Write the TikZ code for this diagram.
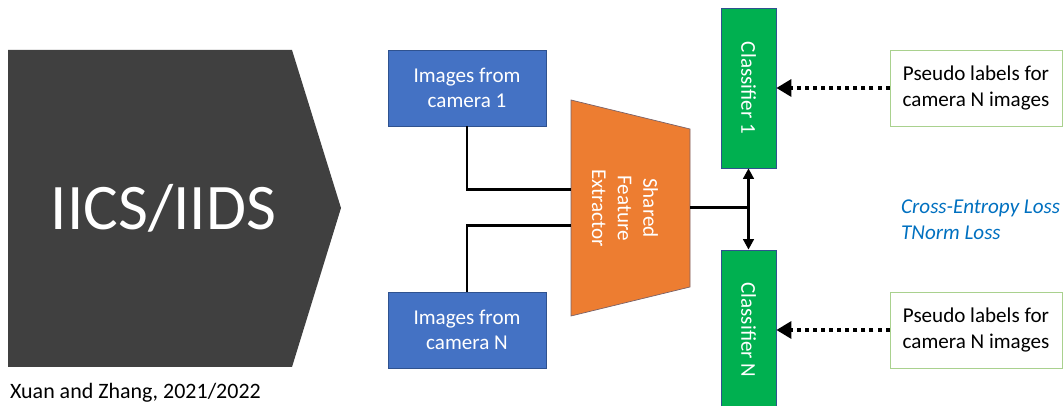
\documentclass[tikz,border=0pt]{standalone}
\usepackage{fontspec}
\setmainfont{Carlito}
\usepackage{tikz}
\usetikzlibrary{arrows.meta,positioning}
\definecolor{darkgrey}{HTML}{404040}
\definecolor{camblue}{HTML}{4472C4}
\definecolor{featorange}{HTML}{ED7D31}
\definecolor{clsgreen}{HTML}{00B050}
\definecolor{outline}{HTML}{2F528F}
\definecolor{lightgreen}{HTML}{A9D18E}
\definecolor{losstext}{HTML}{0070C0}

\begin{document}
\begin{tikzpicture}[
		camera/.style={draw=outline, thin, fill=camblue, text=white, minimum width=3.16cm, minimum height=1.52cm, align=center, font=\fontsize{12}{14.6}\selectfont},
		classifier/.style={draw=outline, thin, fill=clsgreen, text=white, rotate=-90, minimum width=3.2cm, minimum height=1.1cm, font=\fontsize{12}{14.6}\selectfont},
		pseudo/.style={draw=lightgreen, thin, fill=white, minimum width=3.44cm, minimum height=1.52cm, align=center, font=\fontsize{12}{14.6}\selectfont},
		wire/.style={line width=1.7pt},
		dotarrow/.style={line width=2.6pt, dash pattern=on 2.3pt off 2.3pt, -{Triangle[length=8.5pt,width=9.5pt]}},
		feedarrow/.style={line width=1.6pt, -{Triangle[length=6pt,width=6pt]}}
	]
		\useasboundingbox (0,0) rectangle (21.26,8.12);
		% Method block
		\fill[darkgrey] (0.16,7.12) -- (5.84,7.12) -- (6.82,3.96) -- (5.84,0.78) -- (0.16,0.78) -- cycle;
		\node[text=white, font=\fontsize{37}{44}\selectfont] at (3.27,3.96) (method) {IICS/IIDS};
		\node[anchor=west, font=\fontsize{12.5}{15}\selectfont] at (0.08,0.27) (cite) {Xuan and Zhang, 2021/2022};
		% Camera images
		\node[camera] at (9.34,6.36) (img1) {Images from\\camera 1};
		\node[camera] at (9.34,1.52) (imgN) {Images from\\camera N};
		% Shared feature extractor
		\draw[outline!60!featorange, thin, fill=featorange] (11.42,6.12) -- (13.8,5.54) -- (13.8,2.38) -- (11.42,1.80) -- cycle;
		\node[text=white, rotate=-90, align=center, font=\fontsize{12}{14.6}\selectfont] at (12.5,3.96) (extractor) {Shared\\Feature\\Extractor};
		\coordinate (fe-in1) at (11.42,4.32);
		\coordinate (fe-inN) at (11.42,3.60);
		\coordinate (fe-out) at (13.8,3.96);
		\coordinate (split) at (14.97,3.96);
		\draw[wire] (img1.south) |- (fe-in1);
		\draw[wire] (imgN.north) |- (fe-inN);
		\draw[wire] (fe-out) -- (split);
		% Classifiers (rotated: east is the lower side, north the right side)
		\node[classifier] at (14.97,6.36) (cls1) {Classifier 1};
		\node[classifier] at (14.97,1.52) (clsN) {Classifier N};
		\draw[feedarrow] (split) -- (cls1.east);
		\draw[feedarrow] (split) -- (clsN.west);
		% Pseudo labels
		\node[pseudo] at (19.52,6.36) (pl1) {Pseudo labels for\\camera N images};
		\node[pseudo] at (19.52,1.52) (plN) {Pseudo labels for\\camera N images};
		\draw[dotarrow] (pl1.west) -- (cls1.north);
		\draw[dotarrow] (plN.west) -- (clsN.north);
		% Losses
		\node[anchor=west, align=left, text=losstext, font=\itshape\fontsize{12}{14.6}\selectfont] at (17.9,3.73) (loss) {Cross-Entropy Loss\\TNorm Loss};
	\end{tikzpicture}
\end{document}
